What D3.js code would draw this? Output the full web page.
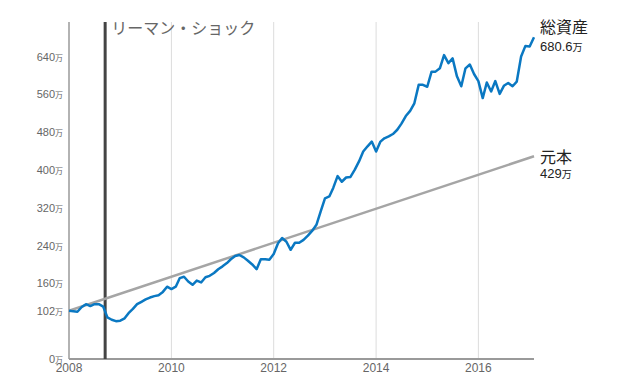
<!DOCTYPE html>
<html>
<head>
<meta charset="utf-8">
<script src="https://cdn.jsdelivr.net/npm/d3@7"></script>
<style>
  body { margin: 0; background: #fff; }
  svg text { font-family: "Helvetica Neue", Arial, "Liberation Sans", "Noto Sans CJK JP", sans-serif; }
</style>
</head>
<body>
<div id="chart"></div>
<script>
// monthly values (万円), starting Jan 2008
var startMonth = "2008-01";
var totalAssets = [102, 101, 100, 110, 116, 112, 116, 116, 111, 88,
  83, 80, 81, 86, 97, 106, 116, 121, 126, 130,
  133, 135, 142, 153, 148, 153, 171, 174, 164, 157,
  166, 162, 173, 176, 182, 190, 196, 203, 211, 218,
  220, 215, 208, 200, 190, 211, 211, 210, 222, 245,
  256, 248, 231, 246, 246, 252, 261, 271, 284, 312,
  340, 344, 362, 387, 375, 384, 385, 400, 418, 439,
  450, 460, 439, 460, 467, 471, 476, 485, 498, 514,
  525, 541, 580, 580, 576, 608, 608, 615, 643, 626,
  636, 598, 577, 615, 623, 603, 588, 552, 585, 566,
  588, 561, 578, 584, 577, 587, 640, 662, 661, 680.6];
// principal: start and end
var principalDates = ["2008-01", "2017-02"];
var principalValues = [102, 429];

var yTicks = [0, 102, 160, 240, 320, 400, 480, 560, 640];
var xTickYears = [2008, 2010, 2012, 2014, 2016];
var lehmanDate = "2008-09-15";
var lehmanLabel = "リーマン・ショック";
var assetLabel = "総資産";
var assetValueLabel = "680.6";
var principalLabel = "元本";
var principalValueLabel = "429";
var unit = "万";

var svgWidth = 639, svgHeight = 378;
var margin = { top: 22, right: 105, bottom: 19, left: 69 };
var width = svgWidth - margin.left - margin.right;
var height = svgHeight - margin.top - margin.bottom;

var parseMonth = d3.timeParse("%Y-%m");
var parseDay = d3.timeParse("%Y-%m-%d");
var start = parseMonth(startMonth);
var assetData = totalAssets.map((v, i) => ({ date: d3.timeMonth.offset(start, i), value: v }));
var principalData = principalDates.map((d, i) => ({ date: parseMonth(d), value: principalValues[i] }));

var svg = d3.select("#chart").append("svg")
  .attr("width", svgWidth)
  .attr("height", svgHeight);

var chartGroup = svg.append("g")
  .attr("transform", `translate(${margin.left}, ${margin.top})`);

var x = d3.scaleTime()
  .domain([start, assetData[assetData.length - 1].date])
  .range([0, width]);

var y = d3.scaleLinear()
  .domain([0, 713])
  .range([height, 0]);

// vertical grid lines
chartGroup.selectAll(".grid")
  .data(xTickYears.slice(1))
  .enter()
  .append("line")
  .attr("x1", d => x(new Date(d, 0, 1)))
  .attr("x2", d => x(new Date(d, 0, 1)))
  .attr("y1", 0)
  .attr("y2", height)
  .attr("stroke", "#dcdcdc")
  .attr("stroke-width", 1);

// axes lines
chartGroup.append("line")
  .attr("x1", 0).attr("x2", 0)
  .attr("y1", 0).attr("y2", height)
  .attr("stroke", "#9a9a9a")
  .attr("stroke-width", 1.5);

chartGroup.append("line")
  .attr("x1", 0).attr("x2", width)
  .attr("y1", height).attr("y2", height)
  .attr("stroke", "#9a9a9a")
  .attr("stroke-width", 2);

// y labels
var yLab = chartGroup.selectAll(".ylab")
  .data(yTicks)
  .enter()
  .append("text")
  .attr("x", -6)
  .attr("y", d => y(d) + 4)
  .attr("text-anchor", "end")
  .attr("fill", "#666")
  .attr("font-size", "11px");
yLab.append("tspan").text(d => d);
yLab.append("tspan").attr("font-size", "8px").text(unit);

// x labels
chartGroup.selectAll(".xlab")
  .data(xTickYears)
  .enter()
  .append("text")
  .attr("x", d => x(new Date(d, 0, 1)))
  .attr("y", height + 13)
  .attr("text-anchor", "middle")
  .attr("fill", "#666")
  .attr("font-size", "12px")
  .text(d => d);

// lehman line
var lx = x(parseDay(lehmanDate));
chartGroup.append("line")
  .attr("x1", lx).attr("x2", lx)
  .attr("y1", 0).attr("y2", height)
  .attr("stroke", "#444")
  .attr("stroke-width", 3);

chartGroup.append("text")
  .attr("x", lx + 6)
  .attr("y", 12)
  .attr("fill", "#666")
  .attr("font-size", "16px")
  .text(lehmanLabel);

// principal line
var line = d3.line()
  .x(d => x(d.date))
  .y(d => y(d.value));

chartGroup.append("path")
  .datum(principalData)
  .attr("d", line)
  .attr("fill", "none")
  .attr("stroke", "#a5a5a5")
  .attr("stroke-width", 2.5);

// total assets line
chartGroup.append("path")
  .datum(assetData)
  .attr("d", line)
  .attr("fill", "none")
  .attr("stroke", "#0a78c2")
  .attr("stroke-width", 2.5)
  .attr("stroke-linejoin", "round");

// end labels
var lastA = assetData[assetData.length - 1];
var labX = x(lastA.date) + 6;
chartGroup.append("text")
  .attr("x", labX)
  .attr("y", y(lastA.value) - 4)
  .attr("fill", "#222")
  .attr("font-size", "16px")
  .text(assetLabel);
var av = chartGroup.append("text")
  .attr("x", labX)
  .attr("y", y(lastA.value) + 14)
  .attr("fill", "#222")
  .attr("font-size", "13px");
av.append("tspan").text(assetValueLabel);
av.append("tspan").attr("font-size", "10px").text(unit);

var lastP = principalData[principalData.length - 1];
chartGroup.append("text")
  .attr("x", labX)
  .attr("y", y(lastP.value) + 7)
  .attr("fill", "#222")
  .attr("font-size", "16px")
  .text(principalLabel);
var pv = chartGroup.append("text")
  .attr("x", labX)
  .attr("y", y(lastP.value) + 22)
  .attr("fill", "#222")
  .attr("font-size", "13px");
pv.append("tspan").text(principalValueLabel);
pv.append("tspan").attr("font-size", "10px").text(unit);
</script>
</body>
</html>
